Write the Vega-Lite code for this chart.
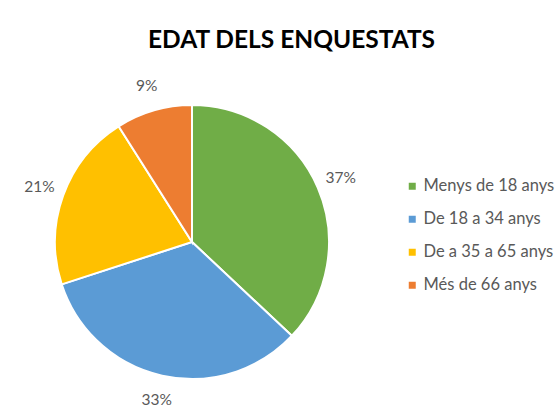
{
  "$schema": "https://vega.github.io/schema/vega-lite/v6.json",
  "width": 300,
  "height": 300,
  "autosize": "none",
  "padding": {"left": 42, "top": 92, "right": 215, "bottom": 16},
  "background": "white",
  "title": {"text": "EDAT DELS ENQUESTATS", "font": "Lato", "fontSize": 24.5, "fontWeight": "bold", "color": "black", "anchor": "start", "frame": "group", "dx": 106, "offset": 26},
  "data": {"values": [
    {"edat": "Menys de 18 anys", "pct": 37, "ord": 1, "label": "37%"},
    {"edat": "De 18 a 34 anys", "pct": 33, "ord": 2, "label": "33%"},
    {"edat": "De a 35 a 65 anys", "pct": 21, "ord": 3, "label": "21%"},
    {"edat": "Més de 66 anys", "pct": 9, "ord": 4, "label": "9%"}
  ]},
  "encoding": {
    "theta": {"field": "pct", "type": "quantitative", "stack": true},
    "order": {"field": "ord", "type": "quantitative"}
  },
  "layer": [
    {
      "mark": {"type": "arc", "outerRadius": 137, "stroke": "white", "strokeWidth": 2},
      "encoding": {
        "color": {"field": "edat", "type": "nominal",
          "scale": {"domain": ["Menys de 18 anys", "De 18 a 34 anys", "De a 35 a 65 anys", "Més de 66 anys"], "range": ["#70AD47", "#5B9BD5", "#FFC000", "#ED7D31"]},
          "legend": {"title": null, "orient": "none", "legendX": 362, "legendY": 86, "symbolType": "square", "symbolSize": 49, "symbolStrokeWidth": 0, "labelFont": "Lato", "labelFontSize": 16.5, "labelColor": "#595959", "rowPadding": 16, "labelOffset": 3}
        }
      }
    },
    {
      "mark": {"type": "text", "radius": 162, "font": "Lato", "fontSize": 15.5},
      "encoding": {
        "text": {"field": "label", "type": "nominal"},
        "color": {"value": "#595959"}
      }
    }
  ],
  "config": {"view": {"stroke": null}}
}
